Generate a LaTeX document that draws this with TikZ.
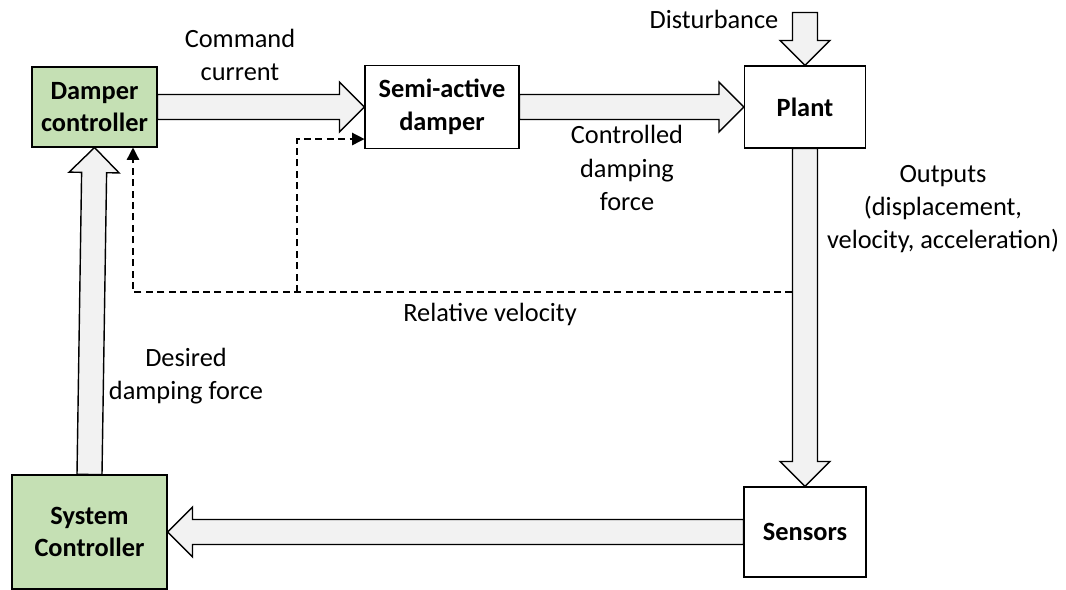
\documentclass[tikz,border=0pt]{standalone}
\usepackage{fontspec}
\setmainfont{Carlito}
\usetikzlibrary{arrows.meta,calc,positioning}
\definecolor{ctrlgreen}{HTML}{C5E0B4}
\definecolor{shaftgray}{HTML}{F2F2F2}

\begin{document}
\begin{tikzpicture}[
    font=\fontsize{15}{19}\selectfont,
    block/.style={draw,line width=0.6pt,align=center,inner sep=2pt,
                  font=\fontsize{15}{18.5}\selectfont\bfseries},
    ctrl/.style={block,fill=ctrlgreen},
    note/.style={align=center},
    % hollow block arrow from start to target
    fat/.style={draw,line width=0.8pt,fill=shaftgray,line join=miter,
      to path={($(\tikztostart)!0.25cm!90:(\tikztotarget)$)
        -- ($(\tikztotarget)!0.5cm!(\tikztostart)!0.25cm!-90:(\tikztostart)$)
        -- ($(\tikztotarget)!0.5cm!(\tikztostart)!0.5cm!-90:(\tikztostart)$)
        -- (\tikztotarget)
        -- ($(\tikztotarget)!0.5cm!(\tikztostart)!0.5cm!90:(\tikztostart)$)
        -- ($(\tikztotarget)!0.5cm!(\tikztostart)!0.25cm!90:(\tikztostart)$)
        -- ($(\tikztostart)!0.25cm!-90:(\tikztotarget)$) -- cycle}},
    feedback/.style={line width=0.8pt,dash pattern=on 4pt off 2.5pt,
                     -{Triangle[length=7pt,width=7pt]}},
  ]
    \useasboundingbox (0,0) rectangle (21.32,11.8);

    % blocks
    \node[ctrl,minimum width=2.5cm,minimum height=1.6cm] (damper) at (1.89,9.66) {Damper\\controller};
    \node[block,minimum width=3.08cm,minimum height=1.66cm] (semi) at (8.84,9.66) {Semi-active\\damper};
    \node[block,minimum width=2.42cm,minimum height=1.64cm] (plant) at (16.1,9.66) {Plant};
    \node[block,minimum width=2.44cm,minimum height=1.8cm] (sensors) at (16.1,1.16) {Sensors};
    \node[ctrl,minimum width=3.1cm,minimum height=2.28cm] (sysctrl) at (1.79,1.16) {System\\Controller};
    \coordinate[above=1.06cm of plant.north] (dist);

    % signal flow
    \draw[fat] (damper.east) to (semi.west);
    \draw[fat] (semi.east) to (plant.west);
    \draw[fat] (dist) to (plant.north);
    \draw[fat] (plant.south) to (sensors.north);
    \draw[fat] (sensors.west) to (sysctrl.east);
    \draw[fat] (sysctrl.north) to (damper.south);

    % relative velocity feedback
    \coordinate (tap) at (15.85,5.96);
    \coordinate (fbk) at (2.66,5.96);
    \coordinate (split) at (5.94,5.96);
    \draw[feedback] (tap) -- (fbk) -- (fbk |- damper.south);
    \draw[feedback] (split) |- ([yshift=0.2cm]semi.south west);

    % labels
    \node[note] (cmdlbl) at (4.80,10.70) {Command\\current};
    \node[note] (distlbl) at (14.28,11.42) {Disturbance};
    \node[note] (forcelbl) at (12.54,8.44) {Controlled\\damping\\force};
    \node[note] (outlbl) at (18.86,7.62) {Outputs\\(displacement,\\velocity, acceleration)};
    \node[note] (rellbl) at (9.80,5.52) {Relative velocity};
    \node[note] (deslbl) at (3.72,4.28) {Desired\\damping force};
\end{tikzpicture}
\end{document}
